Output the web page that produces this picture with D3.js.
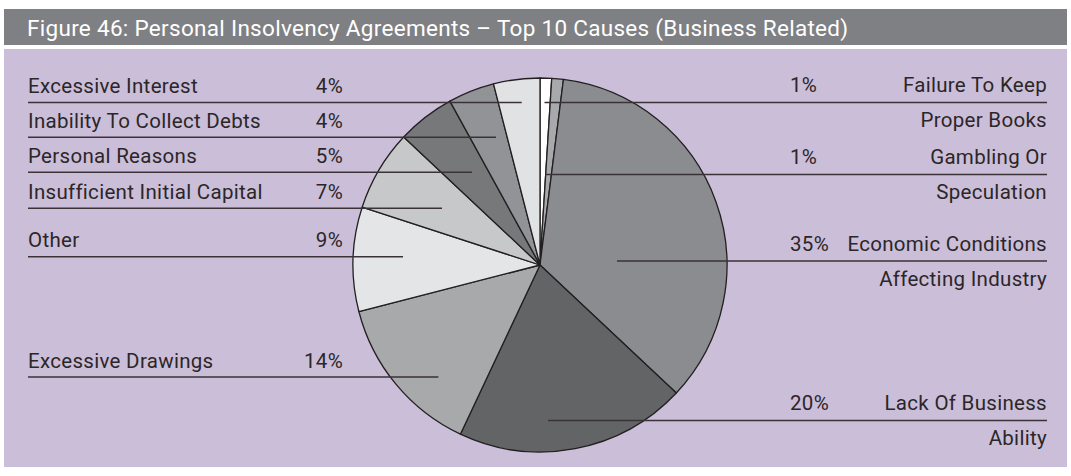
<!DOCTYPE html>
<html>
<head>
<meta charset="utf-8">
<script src="https://cdn.jsdelivr.net/npm/d3@7"></script>
<style>
  html, body { margin: 0; padding: 0; background: #ffffff; }
  svg { display: block; }
  text { font-family: Roboto, "Noto Sans", sans-serif; }
</style>
</head>
<body>
<svg id="chart" width="1071" height="476"></svg>
<script>
// ---- Data ----
const title = "Figure 46: Personal Insolvency Agreements \u2013 Top 10 Causes (Business Related)";
const categories = [
  "Failure To Keep Proper Books",
  "Gambling Or Speculation",
  "Economic Conditions Affecting Industry",
  "Lack Of Business Ability",
  "Excessive Drawings",
  "Other",
  "Insufficient Initial Capital",
  "Personal Reasons",
  "Inability To Collect Debts",
  "Excessive Interest"
];
const values = [1, 1, 35, 20, 14, 9, 7, 5, 4, 4];
const percentLabels = ["1%", "1%", "35%", "20%", "14%", "9%", "7%", "5%", "4%", "4%"];
// label text split into lines (right-hand labels wrap onto two lines)
const labelLines = [
  ["Failure To Keep", "Proper Books"],
  ["Gambling Or", "Speculation"],
  ["Economic Conditions", "Affecting Industry"],
  ["Lack Of Business", "Ability"],
  ["Excessive Drawings"],
  ["Other"],
  ["Insufficient Initial Capital"],
  ["Personal Reasons"],
  ["Inability To Collect Debts"],
  ["Excessive Interest"]
];
const sliceColors = ["#ffffff", "#a8a9ac", "#8b8c8f", "#636466", "#a8a9ab",
                     "#e4e5e6", "#c7c8c9", "#77787a", "#929396", "#e1e2e4"];

// ---- Layout (leader lines: side, offset of the line from pie centre, inner end) ----
const leaderLayout = [
  { side: "right", dy: -162.5, dx: 4.5 },
  { side: "right", dy: -90.5,  dx: 5.5 },
  { side: "right", dy: -4,     dx: 77 },
  { side: "right", dy: 155.5,  dx: 8 },
  { side: "left",  dy: 112,    dx: -101.6 },
  { side: "left",  dy: -8.3,   dx: -137 },
  { side: "left",  dy: -56.7,  dx: -98 },
  { side: "left",  dy: -92.7,  dx: -68 },
  { side: "left",  dy: -127.7, dx: -44 },
  { side: "left",  dy: -162.5, dx: -18.3 }
];

const W = 1071, H = 476;
const svg = d3.select("#chart");

// header bar
svg.append("rect").attr("x", 4).attr("y", 9).attr("width", 1063).attr("height", 36)
  .attr("fill", "#7f8083");
svg.append("text").attr("x", 27).attr("y", 35.5)
  .attr("fill", "#ffffff").attr("font-size", 22.5).attr("letter-spacing", 0.3)
  .text(title);

// panel
svg.append("rect").attr("x", 4).attr("y", 49).attr("width", 1063).attr("height", 418)
  .attr("fill", "#cbbed8");

const cx = 540, cy = 265, r = 187;
const g = svg.append("g").attr("transform", `translate(${cx},${cy})`);

const pie = d3.pie().sort(null).value(d => d).startAngle(0).endAngle(2 * Math.PI);
const arc = d3.arc().innerRadius(0).outerRadius(r);
const arcs = pie(values);

g.selectAll("path.slice").data(arcs).join("path")
  .attr("class", "slice")
  .attr("d", arc)
  .attr("fill", (d, i) => sliceColors[i])
  .attr("stroke", "#231f20")
  .attr("stroke-width", 1.3)
  .attr("stroke-linejoin", "round");

// leader lines and labels
const leftX = 28, leftPctX = 343, rightX = 1047, rightPctX = 790;
const lineColor = "#3a3236", textColor = "#2b2628";
const fs = 20.5, ls = 0.3;

categories.forEach((c, i) => {
  const L = leaderLayout[i];
  const y = cy + L.dy;
  const xIn = cx + L.dx;
  if (L.side === "left") {
    svg.append("line").attr("x1", leftX).attr("x2", xIn).attr("y1", y).attr("y2", y)
      .attr("stroke", lineColor).attr("stroke-width", 1.5);
    svg.append("text").attr("x", leftX).attr("y", y - 9.5)
      .attr("font-size", fs).attr("letter-spacing", ls).attr("fill", textColor)
      .text(labelLines[i][0]);
    svg.append("text").attr("x", leftPctX).attr("y", y - 9.5)
      .attr("text-anchor", "end").attr("font-size", fs).attr("letter-spacing", ls)
      .attr("fill", textColor).text(percentLabels[i]);
  } else {
    svg.append("line").attr("x1", xIn).attr("x2", rightX).attr("y1", y).attr("y2", y)
      .attr("stroke", lineColor).attr("stroke-width", 1.5);
    labelLines[i].forEach((t, k) => {
      svg.append("text").attr("x", rightX).attr("y", y - 10.5 + k * 35)
        .attr("text-anchor", "end").attr("font-size", fs).attr("letter-spacing", ls)
        .attr("fill", textColor).text(t);
    });
    svg.append("text").attr("x", rightPctX).attr("y", y - 10.5)
      .attr("font-size", fs).attr("letter-spacing", ls).attr("fill", textColor)
      .text(percentLabels[i]);
  }
});
</script>
</body>
</html>
